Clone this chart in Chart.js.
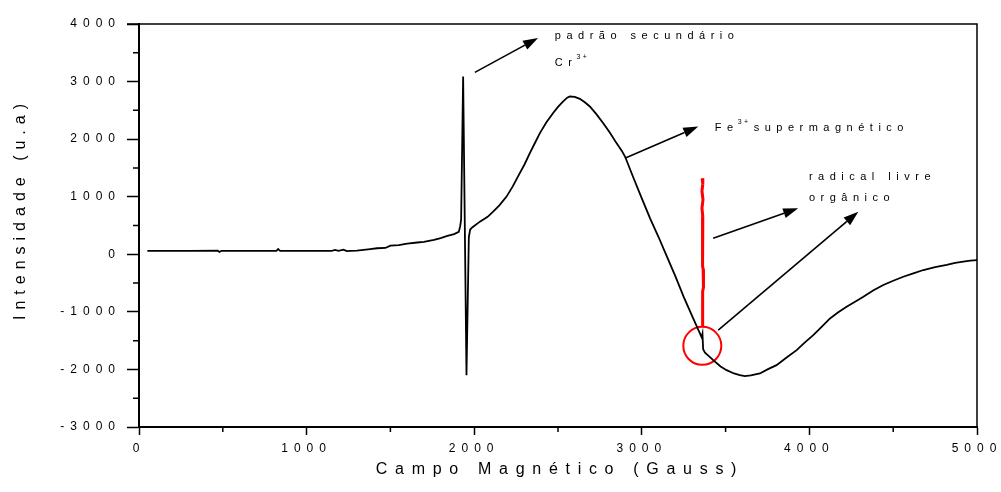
<!DOCTYPE html>
<html lang="pt">
<head>
<meta charset="UTF-8">
<title>EPR</title>
<script src="https://cdn.jsdelivr.net/npm/chart.js"></script>
<style>
  html, body { margin: 0; padding: 0; background: #fff; }
</style>
</head>
<body>
<canvas id="myChart" width="1001" height="492"></canvas>
<script>
// espectro principal (campo em Gauss, intensidade em u.a.)
const campo = [50, 300, 470, 480, 492, 820, 830, 842, 1150, 1170, 1190, 1220, 1240, 1260, 1300, 1380, 1420, 1470, 1500, 1550,
  1600, 1660, 1700, 1760, 1800, 1840, 1880, 1908, 1916, 1922, 1934, 1954, 1968, 1976, 1990, 2034, 2080, 2113, 2150, 2193,
  2230, 2272, 2300, 2332, 2360, 2392, 2430, 2471, 2500, 2531, 2555, 2571, 2600, 2630, 2660, 2690, 2730, 2769, 2810, 2849,
  2880, 2900, 2950, 3000, 3050, 3100, 3150, 3200, 3250, 3300, 3340, 3357, 3362, 3366, 3377, 3400, 3426, 3470, 3506, 3550,
  3585, 3615, 3650, 3705, 3750, 3804, 3860, 3924, 3970, 4023, 4070, 4123, 4170, 4222, 4270, 4322, 4380, 4441, 4500, 4560,
  4620, 4680, 4750, 4819, 4870, 4918, 4960, 5000];
const intensidade = [60, 60, 62, 40, 60, 60, 90, 60, 60, 75, 60, 80, 55, 60, 65, 90, 105, 110, 150, 160,
  185, 205, 215, 250, 280, 320, 350, 390, 480, 600, 3090, -2100, 300, 430, 470, 567, 650, 741, 850, 1002,
  1180, 1409, 1560, 1757, 1920, 2105, 2290, 2453, 2560, 2655, 2720, 2741, 2735, 2700, 2640, 2567, 2430, 2279, 2110, 1931,
  1800, 1698, 1330, 970, 620, 300, -40, -380, -740, -1070, -1330, -1440, -1380, -1650, -1710, -1770, -1839, -1950, -2013, -2070,
  -2100, -2117, -2105, -2070, -2000, -1926, -1800, -1665, -1540, -1404, -1270, -1114, -1010, -911, -830, -738, -630, -534, -460, -390,
  -330, -273, -225, -186, -150, -128, -110, -100];

// sinal do radical livre (vermelho)
const radicalCampo = [3360, 3364, 3359, 3365, 3359, 3364, 3360, 3365, 3360, 3364, 3363, 3363, 3366, 3370, 3366, 3370, 3366, 3363, 3363];
const radicalIntensidade = [1320, 1220, 1100, 950, 800, 650, 500, 350, 220, 130, -100, -200, -260, -340, -420, -500, -570, -650, -1260];

// circulo em volta do radical
const circuloCampo = [3361];
const circuloIntensidade = [-1590];

// setas: [x0, y0, x1, y1] em unidades do grafico
const setas = [
  [2004, 3159, 2381, 3757],
  [2899, 1670, 3337, 2220],
  [3426, 278, 3933, 800],
  [3456, -1317, 4292, 741]
];

const toXY = (xs, ys) => xs.map((x, i) => ({ x: x, y: ys[i] }));

const FONT = "Arial, 'Liberation Sans', sans-serif";

const espaco = {
  id: 'espaco',
  beforeLayout(chart) { chart.ctx.letterSpacing = '6px'; },
  beforeDraw(chart) { chart.ctx.letterSpacing = '6px'; }
};

function texto(ctx, str, x, y, size, sp) {
  ctx.font = size + 'px ' + FONT;
  ctx.letterSpacing = sp + 'px';
  ctx.fillText(str, x, y);
  return ctx.measureText(str).width;
}

function textoSup(ctx, base, sup, resto, x, y) {
  let w = texto(ctx, base, x, y, 11, 5.5);
  const ws = texto(ctx, sup, x + w - 1, y - 6, 7, 2.5);
  if (resto) texto(ctx, resto, x + w + ws + 2, y, 11, 5.5);
}

const extras = {
  id: 'extras',
  afterDraw(chart) {
    const ctx = chart.ctx;
    const a = chart.chartArea;
    const sx = chart.scales.x, sy = chart.scales.y;
    ctx.save();
    ctx.strokeStyle = '#000';
    // moldura superior / direita
    ctx.lineWidth = 1.5;
    ctx.beginPath();
    ctx.moveTo(a.left - 12, a.top); ctx.lineTo(a.right, a.top); ctx.lineTo(a.right, a.bottom);
    ctx.stroke();
    // ticks menores
    ctx.lineWidth = 1.5;
    ctx.beginPath();
    for (let v = 500; v < 5000; v += 1000) {
      const px = sx.getPixelForValue(v);
      ctx.moveTo(px, a.bottom); ctx.lineTo(px, a.bottom + 5);
    }
    for (let v = -2500; v < 4000; v += 1000) {
      const py = sy.getPixelForValue(v);
      ctx.moveTo(a.left, py); ctx.lineTo(a.left - 6, py);
    }
    ctx.stroke();
    // setas
    ctx.fillStyle = '#000';
    ctx.lineWidth = 1.6;
    setas.forEach(s => {
      const x0 = sx.getPixelForValue(s[0]), y0 = sy.getPixelForValue(s[1]);
      const x1 = sx.getPixelForValue(s[2]), y1 = sy.getPixelForValue(s[3]);
      const ang = Math.atan2(y1 - y0, x1 - x0);
      const L = 15, W = 5;
      const bx = x1 - L * Math.cos(ang), by = y1 - L * Math.sin(ang);
      ctx.beginPath(); ctx.moveTo(x0, y0); ctx.lineTo(bx, by); ctx.stroke();
      ctx.beginPath();
      ctx.moveTo(x1, y1);
      ctx.lineTo(bx + W * Math.sin(ang), by - W * Math.cos(ang));
      ctx.lineTo(bx - W * Math.sin(ang), by + W * Math.cos(ang));
      ctx.closePath(); ctx.fill();
    });
    // rotulos
    ctx.textBaseline = 'middle';
    ctx.textAlign = 'left';
    texto(ctx, 'padrão secundário', sx.getPixelForValue(2481), sy.getPixelForValue(3797), 11, 5.5);
    textoSup(ctx, 'Cr', '3+', '', sx.getPixelForValue(2481), sy.getPixelForValue(3327));
    textoSup(ctx, 'Fe', '3+', 'supermagnético', sx.getPixelForValue(3436), sy.getPixelForValue(2197));
    texto(ctx, 'radical livre', sx.getPixelForValue(3997), sy.getPixelForValue(1350), 11, 5.5);
    texto(ctx, 'orgânico', sx.getPixelForValue(3997), sy.getPixelForValue(979), 11, 5.5);
    // titulos dos eixos
    ctx.textAlign = 'center';
    texto(ctx, 'Campo Magnético (Gauss)', (a.left + a.right) / 2 + 2, 470, 16, 7.7);
    ctx.translate(21, 212);
    ctx.rotate(-Math.PI / 2);
    texto(ctx, 'Intensidade (u.a)', 3, 0, 16, 6);
    ctx.restore();
  }
};

new Chart(document.getElementById('myChart'), {
  type: 'scatter',
  data: {
    datasets: [
      {
        data: toXY(campo, intensidade),
        showLine: true,
        borderColor: '#000',
        borderWidth: 1.8,
        pointRadius: 0,
        tension: 0
      },
      {
        data: toXY(radicalCampo, radicalIntensidade),
        showLine: true,
        borderColor: '#ff0000',
        borderWidth: 3,
        pointRadius: 0,
        tension: 0
      },
      {
        data: toXY(circuloCampo, circuloIntensidade),
        showLine: false,
        pointRadius: 19,
        pointBorderColor: '#ff0000',
        pointBackgroundColor: 'rgba(0,0,0,0)',
        pointBorderWidth: 2
      }
    ]
  },
  options: {
    responsive: false,
    animation: false,
    events: [],
    layout: { padding: { top: 24, right: 24, bottom: 0, left: 0 } },
    plugins: { legend: { display: false }, tooltip: { enabled: false } },
    scales: {
      x: {
        type: 'linear', min: 0, max: 5000,
        ticks: { stepSize: 1000, color: '#000', font: { family: FONT, size: 12 }, padding: 6, maxRotation: 0,
          callback: v => String(v) },
        grid: { drawOnChartArea: false, tickLength: 8, tickColor: '#000', tickWidth: 1.5 },
        border: { color: '#000', width: 2 },
        afterFit(s) { s.height = 65; s.paddingLeft = 0; s.paddingRight = 0; }
      },
      y: {
        min: -3000, max: 4000,
        ticks: { stepSize: 1000, color: '#000', font: { family: FONT, size: 12 }, padding: 6,
          callback: v => String(v) },
        grid: { drawOnChartArea: false, tickLength: 12, tickColor: '#000', tickWidth: 1.5 },
        border: { color: '#000', width: 2 },
        afterFit(s) { s.width = 139; s.paddingTop = 0; s.paddingBottom = 0; }
      }
    }
  },
  plugins: [espaco, extras]
});
</script>
</body>
</html>
